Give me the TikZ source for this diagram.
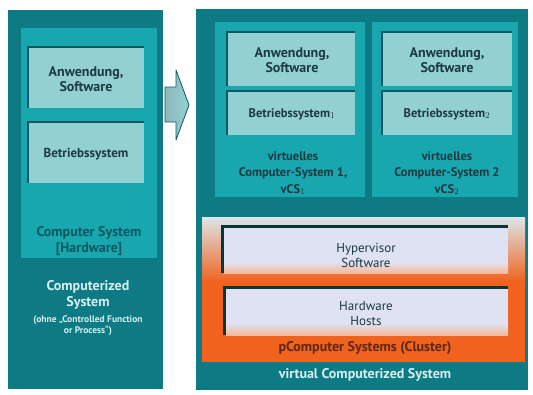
\documentclass[tikz,border=0pt]{standalone}
\usepackage{fontspec}
\setmainfont{PT Sans}
\definecolor{tealdark}{HTML}{0E7A84}
\definecolor{tealmid}{HTML}{18A6AF}
\definecolor{teallight}{HTML}{93D0D2}
\definecolor{tealshadow}{HTML}{0B5960}
\definecolor{hworange}{HTML}{F0621E}
\definecolor{hwlavender}{HTML}{DEE2F2}
\definecolor{hwtop}{HTML}{DDE6E8}
\definecolor{txtdark}{HTML}{1C3A40}
\definecolor{txtlight}{HTML}{D6F0F1}
\definecolor{txtbrown}{HTML}{5A2A12}
\tikzset{
  lbl/.style={align=center, font=\bfseries\fontsize{14}{15.5}\selectfont, text=txtdark},
  small/.style={align=center, font=\bfseries\fontsize{9.5}{11}\selectfont, text=txtlight},
  vmlbl/.style={align=center, font=\bfseries\fontsize{12.5}{16.5}\selectfont, text=txtdark},
  hwlbl/.style={align=center, font=\fontsize{13}{15}\selectfont, text=txtdark},
}
\begin{document}
\begin{tikzpicture}[x=1pt, y=-1pt]
		\useasboundingbox (0,0) rectangle (533,394);
		
		% Left: Computerized System
		\fill[tealdark] (8,10) rectangle (163,389);
		\fill[tealmid] (21,28) rectangle (157,258);
		\fill[tealshadow] (27,46) rectangle (144,108);
		\fill[teallight] (29,48) rectangle (144,108);
		\fill[tealshadow] (27,121) rectangle (144,183);
		\fill[teallight] (29,123) rectangle (144,183);
		\node[lbl] (app) at (86,79) {Anwendung,\\Software};
		\node[lbl, font=\bfseries\fontsize{13}{15}\selectfont] (os) at (86,154) {Betriebssystem};
		\node[lbl, text=tealshadow] (cs) at (89,241) {Computer System\\{[}Hardware{]}};
		\node[lbl, text=txtlight] (csys) at (88,295) {Computerized\\System};
		\node[small] (ohne) at (88,326) {(ohne „Controlled Function\\or Process“)};
		
		% Arrow
		\draw[tealshadow, line width=0.8pt, line join=round, left color=teallight!70!gray, right color=teallight]
			(165,87) -- (176,87) -- (176,70) -- (189,105) -- (176,140) -- (176,122) -- (165,122) -- cycle;
		
		% Right: virtual Computerized System
		\fill[tealdark] (196,9) rectangle (528,390);
		\fill[tealmid] (215,22) rectangle (365,197);
		\fill[tealmid] (372,22) rectangle (518,197);
		% VM 1
		\fill[tealshadow] (226,31) rectangle (355,86);
		\fill[teallight] (228,33) rectangle (355,86);
		\fill[tealshadow] (226,90) rectangle (355,135);
		\fill[teallight] (228,92) rectangle (355,135);
		\node[lbl] (app1) at (292,60) {Anwendung,\\Software};
		\node[lbl, font=\bfseries\fontsize{12.5}{14}\selectfont] (os1) at (292,114) {Betriebssystem$_1$};
		\node[vmlbl] (vcs1) at (293,173) {virtuelles\\Computer-System 1,\\vCS$_1$};
		% VM 2
		\fill[tealshadow] (381,31) rectangle (512,86);
		\fill[teallight] (383,33) rectangle (512,86);
		\fill[tealshadow] (381,90) rectangle (512,135);
		\fill[teallight] (383,92) rectangle (512,135);
		\node[lbl] (app2) at (447,60) {Anwendung,\\Software};
		\node[lbl, font=\bfseries\fontsize{12.5}{14}\selectfont] (os2) at (447,114) {Betriebssystem$_2$};
		\node[vmlbl] (vcs2) at (447,173) {virtuelles\\Computer-System 2\\vCS$_2$};
		
		% Cluster
		\fill[hworange] (202,217) rectangle (525,362);
		\shade[top color=hwtop, bottom color=hworange] (202,217) rectangle (525,282);
		\fill[tealshadow!60!black] (221,225) rectangle (508,273);
		\fill[hwlavender] (224,228) rectangle (508,262);
		\shade[top color=hwlavender, bottom color=hworange!45] (224,262) rectangle (508,273);
		\fill[tealshadow!60!black] (223,286) rectangle (508,335);
		\fill[hwlavender] (226,289) rectangle (508,323);
		\shade[top color=hwlavender, bottom color=hworange!45] (226,323) rectangle (508,335);
		\node[hwlbl] (hyp) at (366,255) {Hypervisor\\Software};
		\node[hwlbl] (hw) at (366,314) {Hardware\\Hosts};
		\node[lbl, text=txtbrown] (pcs) at (365,348) {pComputer Systems (Cluster)};
		\node[lbl, text=txtlight] (vcs) at (365,375) {virtual Computerized System};
	\end{tikzpicture}
\end{document}
